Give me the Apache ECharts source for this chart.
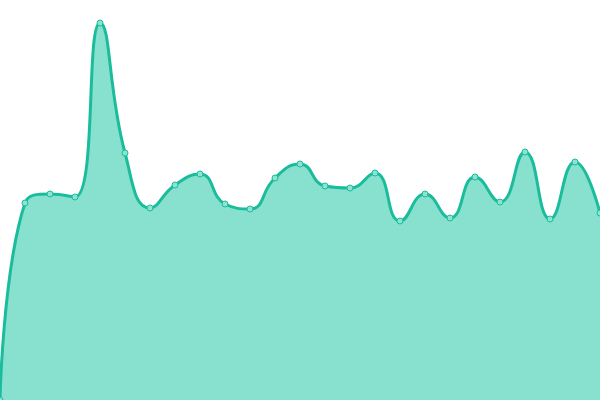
<!DOCTYPE html>
<html>
<head>
<meta charset="utf-8">
<script src="https://cdn.jsdelivr.net/npm/echarts@6/dist/echarts.min.js"></script>
<style>html,body{margin:0;padding:0;background:#fff;}#c{width:600px;height:400px;}</style>
</head>
<body>
<div id="c"></div>
<script>
const categories = ['1','2','3','4','5','6','7','8','9','10','11','12','13','14','15','16','17','18','19','20','21','22','23','24','25'];
const values = [0, 197, 206, 203, 377, 247, 192, 215, 226, 196, 191, 222, 236, 214, 212, 227, 179, 206, 182, 223, 198, 248, 181, 238, 187];

const chart = echarts.init(document.getElementById('c'));
chart.setOption({
  animation: false,
  grid: { left: 0, right: 0, top: 0, bottom: 0 },
  xAxis: { type: 'category', data: categories, boundaryGap: false, show: false },
  yAxis: { type: 'value', min: 0, max: 400, show: false },
  series: [{
    type: 'line',
    data: values,
    smooth: true,
    symbol: 'circle',
    symbolSize: 6,
    lineStyle: { color: '#1abc9c', width: 3 },
    itemStyle: { color: '#8ee2d1', borderColor: '#1abc9c', borderWidth: 1 },
    areaStyle: { color: '#88e0cf', opacity: 1 }
  }]
});
</script>
</body>
</html>
